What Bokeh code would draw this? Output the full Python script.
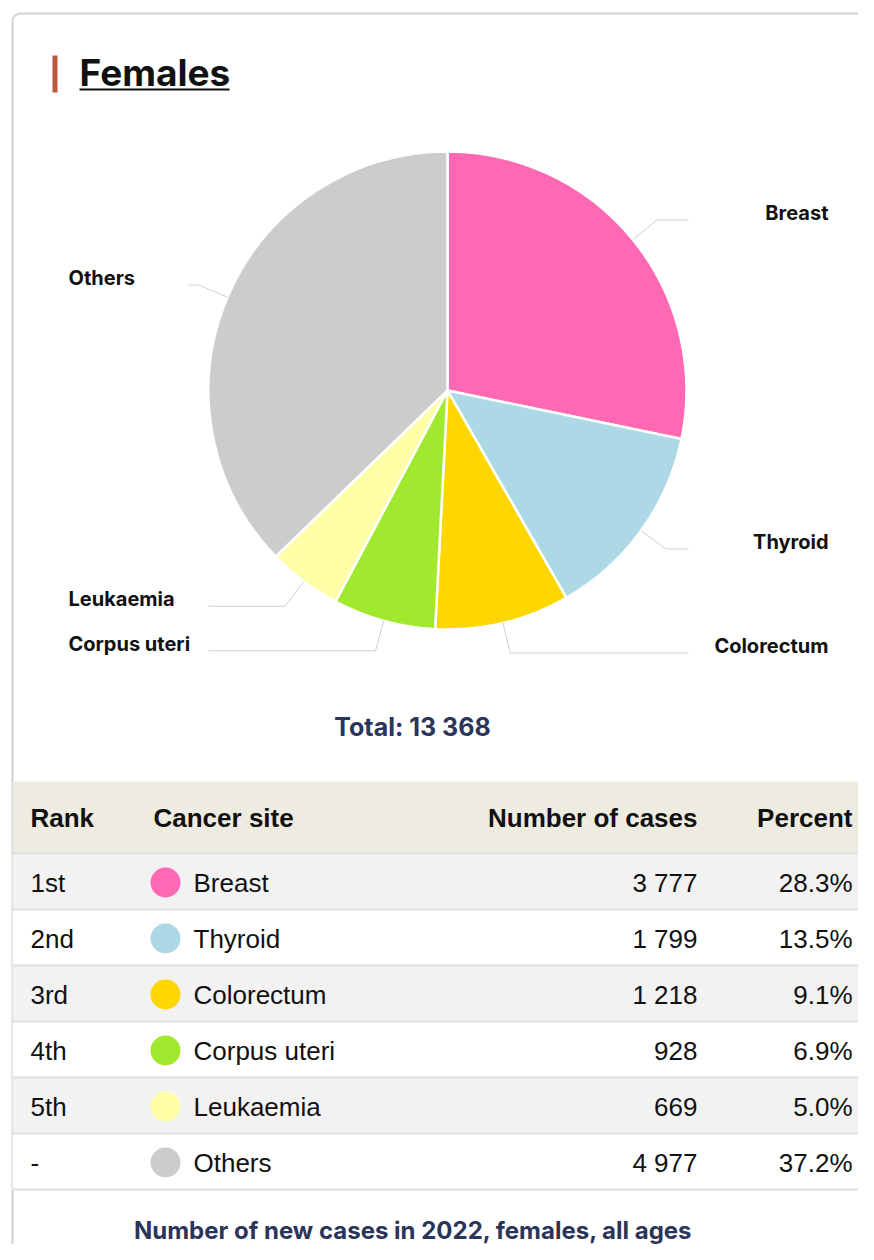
import math
from bokeh.plotting import figure
from bokeh.models import Range1d
from bokeh.core.properties import value
from bokeh.embed import file_html
from bokeh.resources import INLINE

# ---------------- data ----------------
sites = ["Breast", "Thyroid", "Colorectum", "Corpus uteri", "Leukaemia", "Others"]
counts = [3777, 1799, 1218, 928, 669, 4977]
percents = [28.3, 13.5, 9.1, 6.9, 5.0, 37.2]
ranks = ["1st", "2nd", "3rd", "4th", "5th", "-"]
colors = ["#FF69B4", "#ADD8E6", "#FFD700", "#A0E92F", "#FFFFA8", "#CCCCCC"]
total = 13368
title = "Females"
caption = "Number of new cases in 2022, females, all ages"
headers = ["Rank", "Cancer site", "Number of cases", "Percent"]

# ---------------- layout ----------------
W, H = 858, 1244
p = figure(width=W, height=H, output_backend="svg", toolbar_location=None,
           x_range=Range1d(0, W), y_range=Range1d(-H, 0),
           min_border=0, outline_line_color=None)
p.axis.visible = False
p.grid.visible = False
p.background_fill_color = "white"

def Y(v):
    return -v

LBL_FONT = value("Inter")
TBL_FONT = value("Liberation Sans")
NAVY = "#2B3459"
INK = "#111111"
RIGHT = W  # right edge of the card in view

# card border
p.line([20, RIGHT], [Y(13), Y(13)], line_color="#D0D0D0", line_width=2)
p.line([12, 12], [Y(21), Y(H + 10)], line_color="#D0D0D0", line_width=2)
p.arc(x=[20], y=[Y(21)], radius=8, start_angle=math.pi / 2, end_angle=math.pi,
      line_color="#D0D0D0", line_width=2)

# title
p.quad(left=[52], right=[57], top=[Y(55)], bottom=[Y(92)], fill_color="#B85A3D", line_color=None)
p.text(x=[79], y=[Y(72)], text=[title], text_font=LBL_FONT, text_font_style="bold",
       text_font_size="37px", text_color=INK, text_baseline="middle", text_align="left")
p.line([79, 229], [Y(89), Y(89)], line_color=INK, line_width=2)

# ---------------- pie ----------------
cx, cy, R = 447, 390, 239
tot = sum(counts)
starts, ends, mids = [], [], []
acc = 0
for c in counts:
    a0 = acc / tot
    acc += c
    a1 = acc / tot
    starts.append(math.pi / 2 - a0 * 2 * math.pi)
    ends.append(math.pi / 2 - a1 * 2 * math.pi)
    mids.append(math.pi / 2 - (a0 + a1) / 2 * 2 * math.pi)

p.wedge(x=[cx] * len(counts), y=[Y(cy)] * len(counts), radius=R,
        start_angle=starts, end_angle=ends, direction="clock",
        fill_color=colors, line_color="white", line_width=2.5)

# leader lines + labels
xs, ys = [], []
lx, ly, la = [], [], []
for i, m in enumerate(mids):
    x0 = cx + R * math.cos(m)
    y0 = Y(cy) + R * math.sin(m)
    x1 = cx + (R + 31) * math.cos(m)
    y1 = Y(cy) + (R + 31) * math.sin(m)
    right = math.cos(m) > 0
    if right:
        x2 = 688
    else:
        x2 = 188 if sites[i] == "Others" else 208
    xs.append([x0, x1, x2])
    ys.append([y0, y1, y1])
    lx.append(828 if right else 68)
    ly.append(y1 + 7)
    la.append("right" if right else "left")

p.multi_line(xs=xs, ys=ys, line_color="#D0D0D0", line_width=1)
p.text(x=lx, y=ly, text=sites, text_align=la, text_baseline="middle",
       text_font=LBL_FONT, text_font_style="bold", text_font_size="20px", text_color=INK)

# total
p.text(x=[412], y=[Y(726)], text=["Total: " + f"{total:,}".replace(",", " ")],
       text_align="center", text_baseline="middle", text_font=LBL_FONT,
       text_font_style="bold", text_font_size="25px", text_color=NAVY)

# ---------------- table ----------------
p.quad(left=[12], right=[RIGHT], top=[Y(781)], bottom=[Y(853)], fill_color="#EEECE0", line_color=None)
hy = Y(817)
pct_x = 852
p.text(x=[30, 153], y=[hy, hy], text=headers[:2], text_align="left", text_baseline="middle",
       text_font=TBL_FONT, text_font_style="bold", text_font_size="26px", text_color=INK)
p.text(x=[697, pct_x], y=[hy, hy], text=headers[2:], text_align="right", text_baseline="middle",
       text_font=TBL_FONT, text_font_style="bold", text_font_size="26px", text_color=INK)

row_h = 56
top0 = 854
for i in range(len(sites)):
    t = top0 + i * row_h
    fill = "#F2F2F2" if i % 2 == 0 else "#FFFFFF"
    p.quad(left=[12], right=[RIGHT], top=[Y(t)], bottom=[Y(t + row_h)], fill_color=fill, line_color=None)

for i in range(len(sites) + 1):
    yy = Y(top0 - 1 + i * row_h)
    p.line([12, RIGHT], [yy, yy], line_color="#DDDEE2", line_width=2)

row_y = [Y(top0 + 28 + i * row_h) for i in range(len(sites))]
p.circle(x=[165] * len(sites), y=row_y, radius=15, fill_color=colors, line_color=None)
p.text(x=[30] * len(sites), y=row_y, text=ranks, text_align="left", text_baseline="middle",
       text_font=TBL_FONT, text_font_size="26px", text_color=INK)
p.text(x=[193] * len(sites), y=row_y, text=sites, text_align="left", text_baseline="middle",
       text_font=TBL_FONT, text_font_size="26px", text_color=INK)
p.text(x=[697] * len(sites), y=row_y, text=[f"{c:,}".replace(",", " ") for c in counts],
       text_align="right", text_baseline="middle",
       text_font=TBL_FONT, text_font_size="26px", text_color=INK)
p.text(x=[pct_x] * len(sites), y=row_y, text=[f"{v:.1f}%" for v in percents],
       text_align="right", text_baseline="middle",
       text_font=TBL_FONT, text_font_size="26px", text_color=INK)

# caption
p.text(x=[413], y=[Y(1230)], text=[caption], text_align="center", text_baseline="middle",
       text_font=LBL_FONT, text_font_style="bold", text_font_size="24px", text_color=NAVY)

open("out.html", "w").write(file_html(p, INLINE))
